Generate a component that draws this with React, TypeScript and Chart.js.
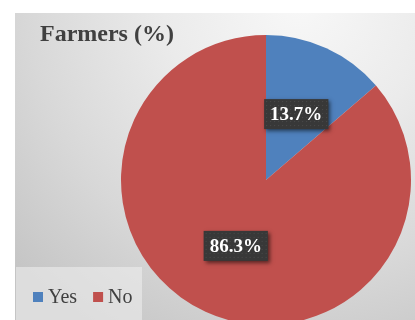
import React, { useEffect, useRef } from "react";
import { Chart, registerables } from "chart.js";

Chart.register(...registerables);

const title = "Farmers (%)";
const categories = ["Yes", "No"];
const values = [13.7, 86.3];
const colors = ["#4F81BD", "#C0504D"];

const decorPlugin = {
  id: "decor",
  beforeDraw(chart: any) {
    const ctx = chart.ctx as CanvasRenderingContext2D;
    ctx.save();
    ctx.fillStyle = "#ffffff";
    ctx.fillRect(0, 0, chart.width, chart.height);
    const g = ctx.createRadialGradient(300, 0, 0, 300, 0, 390);
    g.addColorStop(0, "#f8f8f8");
    g.addColorStop(0.35, "#ebebeb");
    g.addColorStop(0.7, "#d8d8d8");
    g.addColorStop(1, "#c5c5c5");
    ctx.fillStyle = g;
    ctx.fillRect(15, 13, chart.width - 15, chart.height - 13);
    ctx.fillStyle = "rgba(240,240,240,0.55)";
    ctx.fillRect(16, 267, 126, chart.height - 267);
    ctx.restore();
  },
  afterDatasetsDraw(chart: any) {
    const ctx = chart.ctx as CanvasRenderingContext2D;
    const meta = chart.getDatasetMeta(0);
    const data = chart.data.datasets[0].data as number[];
    ctx.save();
    ctx.font = "bold 19px Liberation Serif";
    meta.data.forEach((arc: any, i: number) => {
      const p = arc.tooltipPosition();
      const text = `${data[i].toFixed(1)}%`;
      const w = ctx.measureText(text).width + 12;
      const h = 30;
      const x = p.x - w / 2;
      const y = p.y - h / 2;
      ctx.save();
      ctx.shadowColor = "rgba(0,0,0,0.55)";
      ctx.shadowBlur = 4;
      ctx.shadowOffsetX = 2;
      ctx.shadowOffsetY = 2;
      ctx.fillStyle = "#383838";
      ctx.fillRect(x, y, w, h);
      ctx.restore();
      ctx.fillStyle = "rgba(90,90,90,0.6)";
      for (let yy = y + 2; yy < y + h; yy += 4) {
        for (let xx = x + 2; xx < x + w; xx += 4) {
          ctx.fillRect(xx, yy, 1, 1);
        }
      }
      ctx.fillStyle = "#ffffff";
      ctx.textAlign = "center";
      ctx.textBaseline = "middle";
      ctx.fillText(text, p.x, p.y + 1);
    });
    ctx.font = "20px 'Times New Roman'";
    ctx.textAlign = "left";
    ctx.textBaseline = "alphabetic";
    let lx = 33;
    categories.forEach((c, i) => {
      ctx.fillStyle = colors[i];
      ctx.fillRect(lx, 292, 10, 10);
      ctx.fillStyle = "#404040";
      ctx.fillText(c, lx + 15, 303);
      lx += 15 + ctx.measureText(c).width + 16;
    });
    ctx.restore();
  },
};

export default function App() {
  const ref = useRef<HTMLCanvasElement | null>(null);
  useEffect(() => {
    if (!ref.current) return;
    const chart = new Chart(ref.current, {
      type: "pie",
      data: {
        labels: categories,
        datasets: [
          {
            data: values,
            backgroundColor: colors,
            borderWidth: 0,
            radius: 145,
            clip: false as any,
          },
        ],
      },
      options: {
        responsive: false,
        devicePixelRatio: 1,
        animation: false,
        layout: { padding: { left: 121, right: 4, top: 40, bottom: 0 } },
        plugins: {
          legend: { display: false },
          tooltip: { enabled: false },
          title: { display: false },
        },
      },
      plugins: [decorPlugin],
    });
    return () => chart.destroy();
  }, []);
  return (
    <div style={{ position: "fixed", left: 0, top: 0, width: 415, height: 320, overflow: "hidden" }}>
      <canvas ref={ref} width={415} height={320} style={{ display: "block" }} />
      <div
        style={{
          position: "absolute",
          left: 40,
          top: 19,
          font: 'bold 24px "Liberation Serif", serif',
          lineHeight: "28px",
          color: "#404040",
          whiteSpace: "nowrap",
        }}
      >
        {title}
      </div>
    </div>
  );
}
